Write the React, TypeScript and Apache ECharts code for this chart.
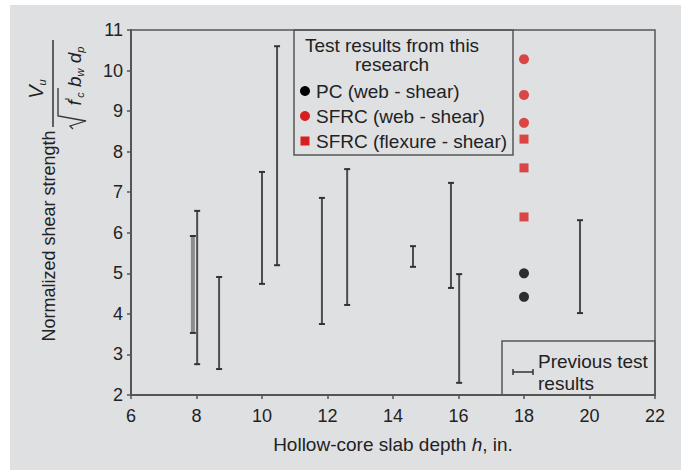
import React, { useEffect, useRef } from "react";
import * as echarts from "echarts";

// Previous test results (ranges)
const prevX = [7.89, 8.02, 8.69, 10.0, 10.46, 11.83, 12.6, 14.61, 15.77, 16.02, 19.71];
const prevLow = [3.53, 2.76, 2.64, 4.74, 5.2, 3.75, 4.22, 5.16, 4.64, 2.3, 4.02];
const prevHigh = [5.92, 6.54, 4.91, 7.5, 10.6, 6.86, 7.57, 5.67, 7.23, 4.98, 6.31];

// Test results from this research
const pcX = [18, 18];
const pcY = [5.0, 4.42];
const sfrcWebX = [18, 18, 18];
const sfrcWebY = [10.28, 9.4, 8.71];
const sfrcFlexX = [18, 18, 18];
const sfrcFlexY = [8.31, 7.6, 6.39];

const legendTitle = ["Test results from this", "research"];
const legendLabels = ["PC (web - shear)", "SFRC (web - shear)", "SFRC (flexure - shear)"];
const prevLabel = ["Previous test", "results"];

const FONT = "'Liberation Sans', Arial, sans-serif";
const TXT = "#222222";
const RED = "#d81e1e";
const AX = "#555555";

export default function App() {
  const ref = useRef<HTMLDivElement>(null);
  useEffect(() => {
    if (!ref.current) return;
    const chart = echarts.init(ref.current, null, { renderer: "svg" });
    const rot = Math.PI / 2;
    const txt = (x: number, y: number, text: string, size: number, align = "left", rotation = 0, extra: any = {}) => ({
      type: "text",
      x,
      y,
      rotation,
      z: 100,
      style: { text, fontSize: size, fontFamily: FONT, fill: TXT, align, verticalAlign: "middle", ...extra },
    });
    const option: any = {
      animation: false,
      backgroundColor: "#ffffff",
      grid: { left: 131, right: 26, top: 30, bottom: 75, show: true, borderColor: AX, borderWidth: 1.5, backgroundColor: "transparent" },
      xAxis: {
        type: "value",
        min: 6,
        max: 22,
        interval: 2,
        splitLine: { show: false },
        axisLine: { lineStyle: { color: AX, width: 2 } },
        axisTick: { show: true, length: 4, lineStyle: { color: AX, width: 1.5 } },
        axisLabel: { color: TXT, fontSize: 18, fontFamily: FONT, margin: 12 },
        name: "{n|Hollow-core slab depth }{i|h}{n|, in.}",
        nameLocation: "middle",
        nameGap: 40,
        nameTextStyle: {
          rich: {
            n: { fontSize: 19, fontFamily: FONT, color: TXT },
            i: { fontSize: 19, fontFamily: FONT, color: TXT, fontStyle: "italic" },
          },
        },
      },
      yAxis: {
        type: "value",
        min: 2,
        max: 11,
        interval: 1,
        splitLine: { show: false },
        axisLine: { lineStyle: { color: AX, width: 2 } },
        axisTick: { show: true, length: 4, lineStyle: { color: AX, width: 1.5 } },
        axisLabel: { color: TXT, fontSize: 18, fontFamily: FONT, margin: 8 },
      },
      graphic: [
        { type: "rect", z: -100, shape: { x: 10, y: 5, width: 671, height: 465 }, style: { fill: "#dfe0e2" } },
        // legend box 1
        { type: "rect", z: 100, shape: { x: 294, y: 30, width: 219, height: 125 }, style: { fill: "none", stroke: AX, lineWidth: 1.5 } },
        txt(392, 45, legendTitle[0], 19, "center"),
        txt(392, 64, legendTitle[1], 19, "center"),
        { type: "circle", z: 100, shape: { cx: 305, cy: 91, r: 5 }, style: { fill: "#000000" } },
        { type: "circle", z: 100, shape: { cx: 305, cy: 116, r: 5 }, style: { fill: RED } },
        { type: "rect", z: 100, shape: { x: 300.5, y: 136.5, width: 9, height: 9 }, style: { fill: RED } },
        txt(316, 91, legendLabels[0], 19),
        txt(316, 116, legendLabels[1], 19),
        txt(316, 141, legendLabels[2], 19),
        // legend box 2
        { type: "rect", z: 100, shape: { x: 502, y: 341, width: 153, height: 54 }, style: { fill: "none", stroke: AX, lineWidth: 1.5 } },
        { type: "line", z: 100, shape: { x1: 513, y1: 372, x2: 533, y2: 372 }, style: { stroke: "#333", lineWidth: 1.5 } },
        { type: "line", z: 100, shape: { x1: 513, y1: 369, x2: 513, y2: 375 }, style: { stroke: "#333", lineWidth: 1.5 } },
        { type: "line", z: 100, shape: { x1: 533, y1: 369, x2: 533, y2: 375 }, style: { stroke: "#333", lineWidth: 1.5 } },
        txt(538, 361, prevLabel[0], 19),
        txt(538, 383, prevLabel[1], 19),
        // y-axis title
        txt(49, 236, "Normalized shear strength", 18, "center", rot),
        // fraction
        {
          type: "text",
          x: 36,
          y: 89,
          rotation: rot,
          z: 100,
          style: {
            text: "{i|V}{s|u}",
            align: "center",
            verticalAlign: "middle",
            rich: {
              i: { fontSize: 20, fontFamily: FONT, fill: TXT, fontStyle: "italic", verticalAlign: "middle", lineHeight: 22 },
              s: { fontSize: 11, fontFamily: FONT, fill: TXT, fontStyle: "italic", verticalAlign: "bottom", lineHeight: 22 },
            },
          },
        },
        { type: "line", z: 100, shape: { x1: 53, y1: 40, x2: 53, y2: 127 }, style: { stroke: "#333", lineWidth: 1.5 } },
        {
          type: "polyline",
          z: 100,
          shape: { points: [[73, 129], [70, 126], [86, 121], [58, 116], [58, 88]] },
          style: { stroke: "#333", lineWidth: 1.3, fill: "none" },
        },
        {
          type: "text",
          x: 74,
          y: 76,
          rotation: rot,
          z: 100,
          style: {
            text: "{i|f}{n|'}{s|c}{i| b}{s|w}{i| d}{s|p}",
            align: "center",
            verticalAlign: "middle",
            rich: {
              i: { fontSize: 19, fontFamily: FONT, fill: TXT, fontStyle: "italic", verticalAlign: "middle", lineHeight: 22 },
              n: { fontSize: 13, fontFamily: FONT, fill: TXT, verticalAlign: "top", lineHeight: 22 },
              s: { fontSize: 11, fontFamily: FONT, fill: TXT, fontStyle: "italic", verticalAlign: "bottom", lineHeight: 22 },
            },
          },
        },
      ],
      series: [
        {
          type: "custom",
          z: 3,
          data: prevX.map((x, i) => [x, prevLow[i], prevHigh[i]]),
          encode: { x: 0, y: [1, 2] },
          renderItem: (params: any, api: any) => {
            const x = api.value(0);
            const lo = api.coord([x, api.value(1)]);
            const hi = api.coord([x, api.value(2)]);
            const thick = params.dataIndex === 0;
            const stroke = thick ? "#8c8c8c" : "#4d4d4d";
            const lw = thick ? 4 : 2;
            const c = 3;
            return {
              type: "group",
              children: [
                { type: "line", shape: { x1: lo[0], y1: lo[1], x2: hi[0], y2: hi[1] }, style: { stroke, lineWidth: lw } },
                { type: "line", shape: { x1: lo[0] - c, y1: lo[1], x2: lo[0] + c, y2: lo[1] }, style: { stroke: "#333", lineWidth: 2 } },
                { type: "line", shape: { x1: hi[0] - c, y1: hi[1], x2: hi[0] + c, y2: hi[1] }, style: { stroke: "#333", lineWidth: 2 } },
              ],
            };
          },
        },
        {
          type: "scatter",
          name: "PC (web - shear)",
          symbol: "circle",
          symbolSize: 10,
          itemStyle: { color: "#000000" },
          data: pcX.map((x, i) => [x, pcY[i]]),
        },
        {
          type: "scatter",
          name: "SFRC (web - shear)",
          symbol: "circle",
          symbolSize: 10,
          itemStyle: { color: RED },
          data: sfrcWebX.map((x, i) => [x, sfrcWebY[i]]),
        },
        {
          type: "scatter",
          name: "SFRC (flexure - shear)",
          symbol: "rect",
          symbolSize: 9,
          itemStyle: { color: RED },
          data: sfrcFlexX.map((x, i) => [x, sfrcFlexY[i]]),
        },
      ],
    };
    chart.setOption(option);
    return () => chart.dispose();
  }, []);
  return <div ref={ref} style={{ position: "fixed", left: 0, top: 0, width: 681, height: 470 }} />;
}
